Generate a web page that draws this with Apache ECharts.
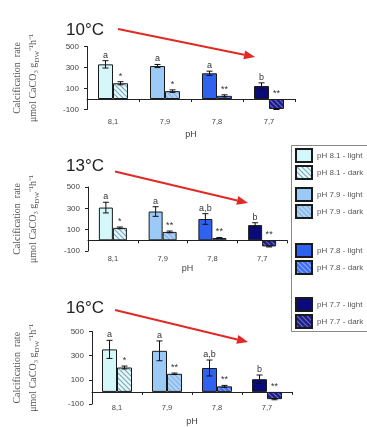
<!DOCTYPE html>
<html>
<head>
<meta charset="utf-8">
<script src="https://cdn.jsdelivr.net/npm/echarts@6/dist/echarts.min.js"></script>
<style>
html,body{margin:0;padding:0;background:#fff;}
#main{width:367px;height:427px;}
</style>
</head>
<body>
<div id="main"></div>
<script>
var chart = echarts.init(document.getElementById('main'));

// categories / names
var categories = ['8,1', '7,9', '7,8', '7,7'];
var phNames = ['8.1', '7.9', '7.8', '7.7'];
var temps = ['10°C', '13°C', '16°C'];

// 10°C
var light10 = [330, 314, 245, 124];
var lightErr10 = [35, 15, 20, 30];
var dark10 = [150, 75, 30, -95];
var darkErr10 = [15, 12, 10, 5];
var sigLight10 = ['a', 'a', 'a', 'b'];
var sigDark10 = ['*', '*', '**', '**'];

// 13°C
var light13 = [307, 270, 200, 143];
var lightErr13 = [50, 45, 50, 22];
var dark13 = [117, 79, 22, -57];
var darkErr13 = [8, 8, 5, 5];
var sigLight13 = ['a', 'a', 'a,b', 'b'];
var sigDark13 = ['*', '**', '**', '**'];

// 16°C
var light16 = [352, 340, 198, 105];
var lightErr16 = [75, 82, 66, 35];
var dark16 = [202, 150, 46, -60];
var darkErr16 = [12, 6, 8, 5];
var sigLight16 = ['a', 'a', 'a,b', 'b'];
var sigDark16 = ['*', '**', '**', '**'];

var yTicks = {min: -100, max: 500, interval: 200};

// hatched fill for the "dark" bars
function hatch(bg, fg) {
    var c = document.createElement('canvas');
    c.width = 5; c.height = 5;
    var ctx = c.getContext('2d');
    ctx.fillStyle = bg;
    ctx.fillRect(0, 0, 5, 5);
    ctx.strokeStyle = fg;
    ctx.lineWidth = 1.2;
    ctx.beginPath();
    ctx.moveTo(-1, -1); ctx.lineTo(6, 6);
    ctx.moveTo(-1, 4); ctx.lineTo(1, 6);
    ctx.moveTo(4, -1); ctx.lineTo(6, 1);
    ctx.stroke();
    return {image: c, repeat: 'repeat'};
}

var lightColors = ['#d4f7fa', '#9ccaf7', '#2f62ee', '#0a0a78'];
var darkColors = [
    hatch('#e6f8fa', '#78aabd'),
    hatch('#add2f6', '#82b0e2'),
    hatch('#3d6ef5', '#8eaaff'),
    hatch('#1e1e86', '#6a6ac8')
];

var panels = [
    {light: light10, lErr: lightErr10, dark: dark10, dErr: darkErr10, sL: sigLight10, sD: sigDark10,
     grid: {left: 87, top: 46.5, width: 208, height: 63}, bw: 15, lblMargin: 8, phGap: 21, nameGap: 46, titleTop: 17},
    {light: light13, lErr: lightErr13, dark: dark13, dErr: darkErr13, sL: sigLight13, sD: sigDark13,
     grid: {left: 88, top: 187, width: 199, height: 64}, bw: 14, lblMargin: 4, phGap: 13, nameGap: 47, titleTop: 153},
    {light: light16, lErr: lightErr16, dark: dark16, dErr: darkErr16, sL: sigLight16, sD: sigDark16,
     grid: {left: 92, top: 331.5, width: 200, height: 74.5}, bw: 15, lblMargin: 0, phGap: 13, nameGap: 51, titleTop: 295}
];

function errSeries(g, p) {
    var data = [], labels = [];
    for (var i = 0; i < 4; i++) {
        data.push([i, p.light[i], p.lErr[i], 0]); labels.push(p.sL[i]);
        data.push([i, p.dark[i], p.dErr[i], 1]); labels.push(p.sD[i]);
    }
    var bw = p.bw;
    return {
        type: 'custom', xAxisIndex: 2 * g, yAxisIndex: g, z: 5, silent: true, data: data,
        renderItem: function (params, api) {
            var c = api.value(0), v = api.value(1), e = api.value(2), side = api.value(3);
            var x = api.coord([c, 0])[0] + (side ? bw / 2 : -bw / 2);
            var yt = api.coord([c, v + e])[1], yb = api.coord([c, v - e])[1];
            var yl = api.coord([c, Math.max(v + e, 0)])[1];
            var st = {stroke: '#111', lineWidth: 1};
            return {type: 'group', children: [
                {type: 'line', shape: {x1: x, y1: yt, x2: x, y2: yb}, style: st},
                {type: 'line', shape: {x1: x - 3, y1: yt, x2: x + 3, y2: yt}, style: st},
                {type: 'line', shape: {x1: x - 3, y1: yb, x2: x + 3, y2: yb}, style: st},
                {type: 'text', x: x, y: yl - 1, style: {text: labels[params.dataIndex], fill: '#333',
                    font: '9px "Liberation Sans"', align: 'center', verticalAlign: 'bottom'}}
            ]};
        }
    };
}

var grids = [], xAxes = [], yAxes = [], series = [], titles = [];
panels.forEach(function (p, g) {
    grids.push(p.grid);
    titles.push({text: temps[g], left: 61, top: p.titleTop,
        textStyle: {fontSize: 17, fontWeight: 'normal', color: '#222', fontFamily: 'Liberation Sans'}});
    // axis carrying the bars, line sits on zero
    xAxes.push({gridIndex: g, type: 'category', data: categories, position: 'bottom',
        axisLine: {onZero: true, lineStyle: {color: '#222'}},
        axisTick: {show: true, length: 3, lineStyle: {color: '#222'}},
        axisLabel: {show: false}});
    // label axis at the bottom
    xAxes.push({gridIndex: g, type: 'category', data: categories, position: 'bottom',
        axisLine: {show: false, onZero: false}, axisTick: {show: false},
        axisLabel: {fontSize: 7.5, color: '#444', margin: p.lblMargin, fontFamily: 'Liberation Sans'},
        name: 'pH', nameLocation: 'middle', nameGap: p.phGap,
        nameTextStyle: {fontSize: 9, color: '#444', fontFamily: 'Liberation Sans'}});
    yAxes.push({gridIndex: g, type: 'value', min: yTicks.min, max: yTicks.max, interval: yTicks.interval,
        axisLine: {show: true, lineStyle: {color: '#222'}},
        axisTick: {show: true, length: 3, lineStyle: {color: '#222'}},
        splitLine: {show: false},
        axisLabel: {fontSize: 8, color: '#444', margin: 8, fontFamily: 'Liberation Sans'},
        name: 'Calcification  rate\nμmol CaCO₃ g{s|DW}⁻¹h⁻¹', nameLocation: 'middle', nameGap: p.nameGap,
        nameTextStyle: {fontFamily: 'Liberation Serif', fontSize: 10, color: '#555', lineHeight: 16,
            rich: {s: {fontFamily: 'Liberation Serif', fontSize: 7, color: '#555', verticalAlign: 'bottom'}}}});

    for (var c = 0; c < 4; c++) {
        (function (c) {
            series.push({type: 'bar', name: 'pH ' + phNames[c] + ' - light', xAxisIndex: 2 * g, yAxisIndex: g,
                stack: 'L' + g, barWidth: p.bw, barGap: '0%', silent: true,
                data: categories.map(function (_, k) { return k === c ? p.light[c] : '-'; }),
                itemStyle: {color: lightColors[c], borderColor: '#1a1a1a', borderWidth: 1}});
            series.push({type: 'bar', name: 'pH ' + phNames[c] + ' - dark', xAxisIndex: 2 * g, yAxisIndex: g,
                stack: 'D' + g, barWidth: p.bw, barGap: '0%', silent: true,
                data: categories.map(function (_, k) { return k === c ? p.dark[c] : '-'; }),
                itemStyle: {color: darkColors[c], borderColor: '#1a1a1a', borderWidth: 1}});
        })(c);
    }
    series.push(errSeries(g, p));
});

function arrow(x1, y1, x2, y2) {
    var a = Math.atan2(y2 - y1, x2 - x1), L = 11, W = 4.5;
    var bx = x2 - L * Math.cos(a), by = y2 - L * Math.sin(a);
    return [
        {type: 'line', z: 10, shape: {x1: x1, y1: y1, x2: bx, y2: by}, style: {stroke: '#e02a25', lineWidth: 2}},
        {type: 'polygon', z: 10, shape: {points: [[x2, y2], [bx + W * Math.sin(a), by - W * Math.cos(a)],
            [bx - W * Math.sin(a), by + W * Math.cos(a)]]}, style: {fill: '#e02a25'}}
    ];
}

var graphics = [{type: 'rect', z: 1, shape: {x: 291.5, y: 145.5, width: 90, height: 186},
    style: {fill: '#fff', stroke: '#8a8a8a', lineWidth: 1}}]
    .concat(arrow(118, 29, 255, 57))
    .concat(arrow(115, 171.5, 248, 203))
    .concat(arrow(115, 310, 248, 342));

var legendTops = [148, 187, 243, 297];
var legends = legendTops.map(function (t, i) {
    return {data: ['pH ' + phNames[i] + ' - light', 'pH ' + phNames[i] + ' - dark'],
        orient: 'vertical', left: 295, top: t, itemWidth: 16, itemHeight: 13, itemGap: 2,
        icon: 'rect', selectedMode: false, padding: 0,
        textStyle: {fontSize: 8, color: '#555', fontFamily: 'Liberation Sans'}};
});

var option = {
    backgroundColor: '#fff',
    animation: false,
    title: titles,
    legend: legends,
    grid: grids,
    xAxis: xAxes,
    yAxis: yAxes,
    graphic: graphics,
    series: series
};
chart.setOption(option);
</script>
</body>
</html>
